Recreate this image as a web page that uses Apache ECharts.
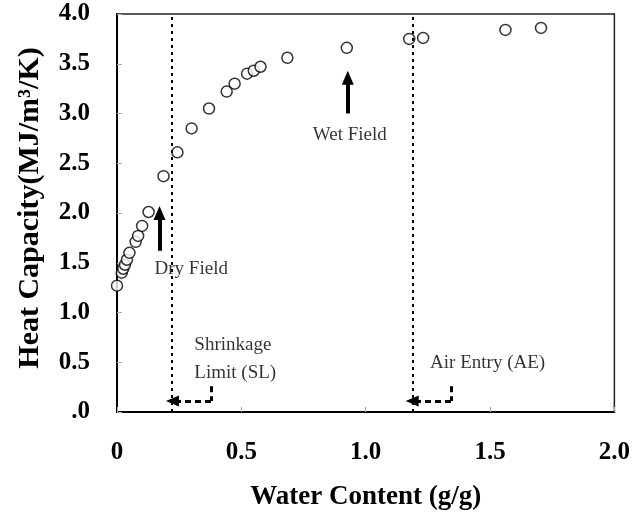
<!DOCTYPE html>
<html>
<head>
<meta charset="utf-8">
<script src="https://cdn.jsdelivr.net/npm/echarts@6/dist/echarts.min.js"></script>
<style>
  html, body { margin: 0; padding: 0; background: #fff; }
  #chart { width: 633px; height: 518px; }
</style>
</head>
<body>
<div id="chart"></div>
<script>
// measured points (water content g/g, heat capacity MJ/m3/K)
var waterContent = [0, 0.019, 0.025, 0.032, 0.040, 0.050, 0.075, 0.085, 0.101, 0.127,
  0.187, 0.243, 0.30, 0.37, 0.441, 0.473, 0.523, 0.55, 0.577, 0.685,
  0.924, 1.175, 1.231, 1.562, 1.705];
var heatCapacity = [1.27, 1.40, 1.44, 1.48, 1.53, 1.60, 1.71, 1.77, 1.87, 2.01,
  2.37, 2.61, 2.85, 3.05, 3.22, 3.30, 3.40, 3.43, 3.47, 3.56,
  3.66, 3.75, 3.76, 3.84, 3.86];

// shrinkage limit and air entry (vertical dotted lines)
var limitNames = ['SL', 'AE'];
var limitValues = [0.223, 1.187];

// annotation arrows
var dryArrow = [[0.171, 1.62], [0.171, 2.0]];
var wetArrow = [[0.928, 3.0], [0.928, 3.36]];
var slElbow = [[0.378, 0.26], [0.378, 0.11], [0.223, 0.11]];
var aeElbow = [[1.343, 0.26], [1.343, 0.11], [1.187, 0.11]];

// annotation texts
var noteTexts = ['Dry Field', 'Wet Field', 'Shrinkage', 'Limit (SL)', 'Air Entry (AE)'];
var notePos = [[0.151, 1.44], [0.936, 2.78], [0.311, 0.67], [0.311, 0.39], [1.259, 0.49]];
var noteAlign = ['left', 'center', 'left', 'left', 'left'];

var serif = '"Liberation Serif", "DejaVu Serif", serif';

var points = waterContent.map(function (x, i) { return [x, heatCapacity[i]]; });

var solidArrow = { type: 'solid', width: 4, color: '#000' };
var dashedArrow = { type: [6, 4], width: 3, color: '#000' };

var lineData = [];
limitValues.forEach(function (v, i) {
  lineData.push({ name: limitNames[i], xAxis: v, symbol: 'none',
    lineStyle: { type: [3, 4], width: 2, color: '#000' } });
});
[dryArrow, wetArrow].forEach(function (a) {
  lineData.push([
    { coord: a[0], symbol: 'none', lineStyle: solidArrow },
    { coord: a[1], symbol: 'triangle', symbolSize: [12, 14], lineStyle: solidArrow }
  ]);
});
[slElbow, aeElbow].forEach(function (e) {
  lineData.push([
    { coord: e[0], symbol: 'none', lineStyle: dashedArrow },
    { coord: e[1], symbol: 'none', lineStyle: dashedArrow }
  ]);
  lineData.push([
    { coord: e[1], symbol: 'none', lineStyle: dashedArrow },
    { coord: e[2], symbol: 'triangle', symbolSize: [11, 13], lineStyle: dashedArrow }
  ]);
});

var notes = noteTexts.map(function (t, i) {
  return { name: t, value: notePos[i], label: { align: noteAlign[i] } };
});

var chart = echarts.init(document.getElementById('chart'));
chart.setOption({
  animation: false,
  backgroundColor: '#fff',
  grid: {
    left: 117, right: 14, top: 14, bottom: 106,
    show: true, borderColor: '#222', borderWidth: 1.5
  },
  xAxis: {
    type: 'value', min: 0, max: 2, interval: 0.5,
    name: 'Water Content (g/g)', nameLocation: 'middle', nameGap: 72,
    nameTextStyle: { fontFamily: serif, fontWeight: 'bold', fontSize: 27, color: '#000' },
    axisLine: { lineStyle: { color: '#000', width: 2 } },
    axisTick: { inside: true, length: 5, lineStyle: { color: '#aaa' } },
    axisLabel: {
      margin: 28, fontFamily: serif, fontWeight: 'bold', fontSize: 25, color: '#000',
      formatter: function (v) { return v === 0 ? '0' : v.toFixed(1); }
    },
    splitLine: { show: false }
  },
  yAxis: {
    type: 'value', min: 0, max: 4, interval: 0.5,
    name: 'Heat Capacity(MJ/m\u00b3/K)', nameLocation: 'middle', nameGap: 72,
    nameTextStyle: { fontFamily: serif, fontWeight: 'bold', fontSize: 30, color: '#000',
      padding: [0, 0, 0, 10] },
    axisLine: { lineStyle: { color: '#000', width: 2 } },
    axisTick: { inside: true, length: 5, lineStyle: { color: '#aaa' } },
    axisLabel: {
      margin: 27, fontFamily: serif, fontWeight: 'bold', fontSize: 25, color: '#000',
      formatter: function (v) { return v === 0 ? '.0' : v.toFixed(1); }
    },
    splitLine: { show: false }
  },
  series: [
    {
      type: 'scatter',
      data: points,
      symbol: 'circle',
      symbolSize: 11,
      itemStyle: { color: '#fff', borderColor: '#000', borderWidth: 1.5 },
      z: 3,
      markLine: {
        silent: true,
        symbol: 'none',
        label: { show: false },
        lineStyle: { color: '#000' },
        data: lineData
      }
    },
    {
      type: 'scatter',
      data: notes,
      symbolSize: 0,
      silent: true,
      label: {
        show: true, position: 'inside', color: '#000',
        fontFamily: serif, fontSize: 19,
        formatter: function (p) { return p.name; }
      }
    }
  ]
});
</script>
</body>
</html>
